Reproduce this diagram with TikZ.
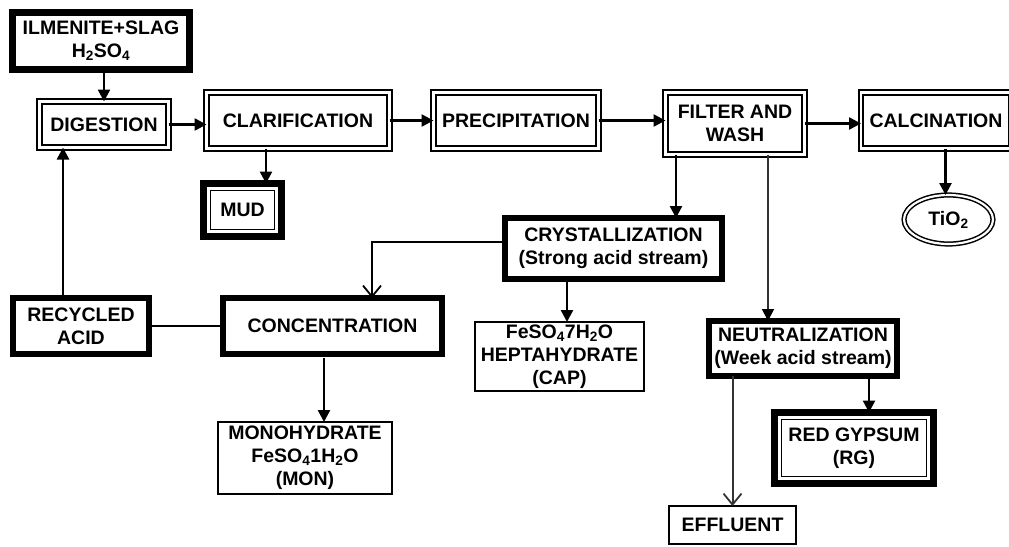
\documentclass[tikz,border=0pt]{standalone}
\usepackage{fontspec}
\setmainfont{Liberation Sans}
\usetikzlibrary{arrows.meta,shapes.geometric}
\begin{document}
\begin{tikzpicture}[x=1pt,y=-1pt,
  every node/.style={font=\fontsize{19.5}{23}\selectfont\bfseries, align=center, inner sep=0pt, outer sep=0pt},
  thickbox/.style={draw, rectangle, line width=6pt},
  heavybox/.style={draw, rectangle, line width=7pt},
  dblbox/.style={draw, rectangle, line width=2pt, double=white, double distance=2.6pt},
  thinbox/.style={draw, rectangle, line width=1.6pt},
  dblellipse/.style={draw, ellipse, line width=1.5pt, double=white, double distance=2.2pt},
  innerline/.style={line width=1.5pt},
  conn/.style={line width=2.5pt},
  arr/.style={conn, -{Triangle[length=12pt,width=12pt]}},
  thinarr/.style={line width=1.8pt, draw=black!80, -{Triangle[length=12pt,width=12pt,color=black]}},
  openarr/.style={line width=2pt, -{Straight Barb[length=11pt,width=18pt,line width=1.8pt]}},
  greyline/.style={draw=black!80},
]
\fill[white] (0,0) rectangle (1009,546);
\useasboundingbox (0,0) rectangle (1009,546);
\clip (0,0) rectangle (1009,546);

% top row
\node[heavybox, minimum width=177pt, minimum height=57pt] (ilm) at (101,41) {ILMENITE+SLAG\\H\textsubscript{2}SO\textsubscript{4}};
\node[dblbox, minimum width=129pt, minimum height=46pt] (dig) at (104,124.5) {DIGESTION};
\node[dblbox, minimum width=183pt, minimum height=56pt] (cla) at (298,120.5) {CLARIFICATION};
\node[dblbox, minimum width=165pt, minimum height=56pt] (pre) at (516,120.5) {PRECIPITATION};
\node[dblbox, minimum width=139pt, minimum height=62pt] (fil) at (735,123.5) {FILTER AND\\WASH};
\node[dblbox, minimum width=150pt, minimum height=56pt] (cal) at (936,120.5) {CALCINATION};

% second row
\node[heavybox, minimum width=78pt, minimum height=53pt] (mud) at (242.5,210) {MUD};
\draw[innerline] ([shift={(7,7)}]mud.north west) rectangle ([shift={(-7,-7)}]mud.south east);
\node[dblellipse, minimum width=89pt, minimum height=49pt] (tio) at (948.5,219.5) {TiO\textsubscript{2}};
\node[thickbox, minimum width=217pt, minimum height=61pt] (cry) at (613.5,248.5) {CRYSTALLIZATION\\(Strong acid stream)};

% third row
\node[thickbox, minimum width=136pt, minimum height=56pt] (rec) at (81,326) {RECYCLED\\ACID};
\node[thickbox, minimum width=219pt, minimum height=56pt] (con) at (332.5,326) {CONCENTRATION};
\node[thinbox, minimum width=169pt, minimum height=69pt] (hep) at (559.5,356.5) {FeSO\textsubscript{4}7H\textsubscript{2}O\\HEPTAHYDRATE\\(CAP)};
\node[thickbox, minimum width=188pt, minimum height=55pt] (neu) at (803,348.5) {NEUTRALIZATION\\(Week acid stream)};

% bottom row
\node[thinbox, minimum width=174pt, minimum height=72pt] (mon) at (305,458) {MONOHYDRATE\\FeSO\textsubscript{4}1H\textsubscript{2}O\\(MON)};
\node[heavybox, minimum width=159pt, minimum height=71pt] (red) at (854,448) {RED GYPSUM\\(RG)};
\draw[innerline] ([shift={(7,7)}]red.north west) rectangle ([shift={(-7,-7)}]red.south east);
\node[thinbox, minimum width=127pt, minimum height=38pt] (eff) at (732.5,525) {EFFLUENT};

% connectors
\draw[arr] (dig.north |- ilm.south) -- (dig.north);
\draw[arr] (dig.east) -- (dig.east -| cla.west);
\draw[arr] (cla.east) -- (pre.west);
\draw[arr] (pre.east) -- (pre.east -| fil.west);
\draw[arr] (fil.east) -- (fil.east -| cal.west);
\draw[arr] ([xshift=23.5pt]mud.north |- cla.south) -- ([xshift=23.5pt]mud.north);
\draw[arr] ([xshift=-3pt]tio.north |- cal.south) -- ([xshift=-3pt]tio.north);
\draw[arr] ([xshift=62.5pt]cry.north |- fil.south) -- ([xshift=62.5pt]cry.north);
\draw[thinarr] ([xshift=-35pt]neu.north |- fil.south) -- ([xshift=-35pt]neu.north);
\draw[openarr] ([yshift=6.5pt]cry.west) -| ([xshift=39.5pt]con.north);
\draw[arr] ([xshift=7.5pt]hep.north |- cry.south) -- ([xshift=7.5pt]hep.north);
\draw[conn] (rec.east) -- (con.west);
\draw[arr] ([xshift=-18pt]rec.north) -- ([xshift=-18pt]rec.north |- dig.south);
\draw[arr, shorten <=4pt] ([xshift=-8.5pt]con.south) -- ([xshift=-8.5pt]con.south |- mon.north);
\draw[openarr, greyline] (eff.north |- neu.south) -- (eff.north);
\draw[arr] ([xshift=15pt]red.north |- neu.south) -- ([xshift=15pt]red.north);
\end{tikzpicture}
\end{document}
